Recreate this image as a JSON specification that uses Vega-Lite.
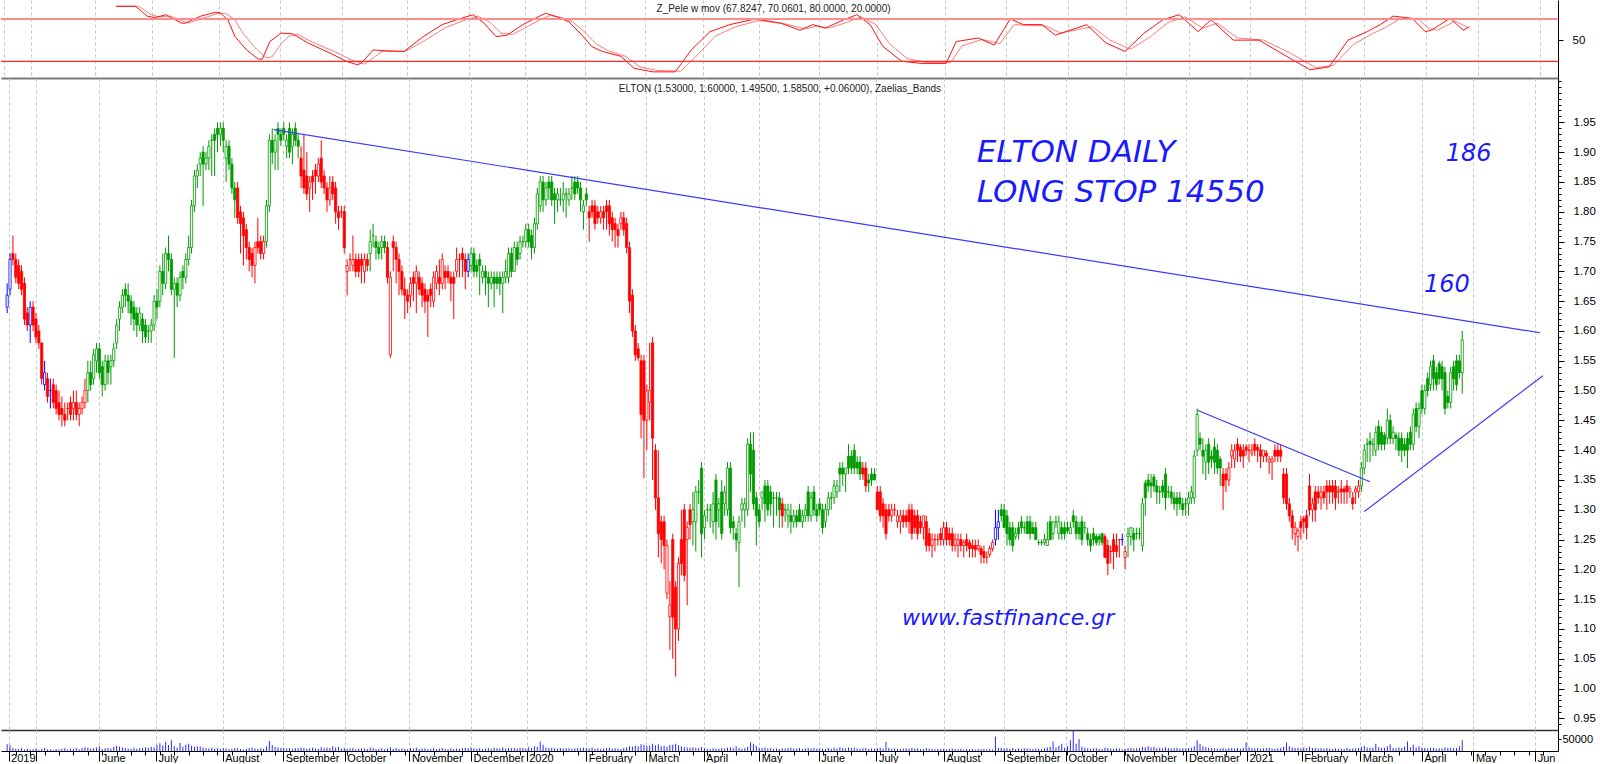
{
"$schema": "https://vega.github.io/schema/vega-lite/v6.json",
"padding": 0,
"background": "#ffffff",
"spacing": 0,
"bounds": "flush",
"config": {"view": {"stroke": null}, "font": "Liberation Sans", "axis": {"labelFont": "Liberation Sans", "labelColor": "#000000", "tickColor": "#000000", "domainColor": "#000000"}},
"datasets": {
"candles": [
{"i":0,"o":1.64,"h":1.68,"l":1.63,"c":1.66,"t":"B","v":28000},
{"i":1,"o":1.67,"h":1.73,"l":1.66,"c":1.72,"t":"B","v":24000},
{"i":2,"o":1.73,"h":1.76,"l":1.71,"c":1.72,"t":"R","v":12000},
{"i":3,"o":1.72,"h":1.73,"l":1.68,"c":1.69,"t":"R","v":9000},
{"i":4,"o":1.71,"h":1.72,"l":1.67,"c":1.68,"t":"R","v":8000},
{"i":5,"o":1.70,"h":1.71,"l":1.66,"c":1.67,"t":"R","v":12000},
{"i":6,"o":1.68,"h":1.69,"l":1.61,"c":1.62,"t":"R","v":6000},
{"i":7,"o":1.63,"h":1.64,"l":1.60,"c":1.61,"t":"R","v":9000},
{"i":8,"o":1.61,"h":1.65,"l":1.58,"c":1.64,"t":"B","v":5000},
{"i":9,"o":1.64,"h":1.65,"l":1.60,"c":1.61,"t":"R","v":7000},
{"i":10,"o":1.62,"h":1.63,"l":1.58,"c":1.59,"t":"R","v":10000},
{"i":11,"o":1.60,"h":1.61,"l":1.57,"c":1.58,"t":"R","v":4000},
{"i":12,"o":1.58,"h":1.58,"l":1.51,"c":1.52,"t":"R","v":9000},
{"i":13,"o":1.51,"h":1.55,"l":1.50,"c":1.53,"t":"B","v":12000},
{"i":14,"o":1.52,"h":1.53,"l":1.48,"c":1.49,"t":"R","v":6000},
{"i":15,"o":1.50,"h":1.52,"l":1.47,"c":1.50,"t":"B","v":7000},
{"i":16,"o":1.51,"h":1.52,"l":1.47,"c":1.48,"t":"R","v":5000},
{"i":17,"o":1.50,"h":1.51,"l":1.46,"c":1.47,"t":"R","v":8000},
{"i":18,"o":1.48,"h":1.50,"l":1.45,"c":1.46,"t":"R","v":6000},
{"i":19,"o":1.47,"h":1.49,"l":1.44,"c":1.46,"t":"R","v":9000},
{"i":20,"o":1.46,"h":1.48,"l":1.44,"c":1.45,"t":"R","v":11000},
{"i":21,"o":1.47,"h":1.48,"l":1.45,"c":1.47,"t":"R","v":6000},
{"i":22,"o":1.48,"h":1.49,"l":1.45,"c":1.46,"t":"R","v":10000},
{"i":23,"o":1.47,"h":1.50,"l":1.45,"c":1.48,"t":"R","v":9000},
{"i":24,"o":1.48,"h":1.50,"l":1.45,"c":1.46,"t":"R","v":13000},
{"i":25,"o":1.46,"h":1.48,"l":1.44,"c":1.47,"t":"R","v":7000},
{"i":26,"o":1.47,"h":1.49,"l":1.46,"c":1.48,"t":"R","v":12000},
{"i":27,"o":1.48,"h":1.52,"l":1.47,"c":1.50,"t":"R","v":16000},
{"i":28,"o":1.50,"h":1.55,"l":1.48,"c":1.53,"t":"G","v":14000},
{"i":29,"o":1.53,"h":1.55,"l":1.50,"c":1.51,"t":"G","v":9000},
{"i":30,"o":1.52,"h":1.57,"l":1.51,"c":1.56,"t":"G","v":12000},
{"i":31,"o":1.55,"h":1.58,"l":1.53,"c":1.57,"t":"G","v":15000},
{"i":32,"o":1.57,"h":1.58,"l":1.52,"c":1.53,"t":"G","v":20000},
{"i":33,"o":1.54,"h":1.55,"l":1.49,"c":1.51,"t":"G","v":8000},
{"i":34,"o":1.51,"h":1.56,"l":1.50,"c":1.55,"t":"G","v":11000},
{"i":35,"o":1.55,"h":1.56,"l":1.51,"c":1.53,"t":"G","v":14000},
{"i":36,"o":1.54,"h":1.56,"l":1.51,"c":1.55,"t":"G","v":9000},
{"i":37,"o":1.55,"h":1.58,"l":1.54,"c":1.57,"t":"G","v":17000},
{"i":38,"o":1.58,"h":1.62,"l":1.57,"c":1.61,"t":"G","v":22000},
{"i":39,"o":1.62,"h":1.65,"l":1.60,"c":1.64,"t":"G","v":18000},
{"i":40,"o":1.64,"h":1.67,"l":1.63,"c":1.66,"t":"G","v":15000},
{"i":41,"o":1.67,"h":1.68,"l":1.64,"c":1.66,"t":"G","v":12000},
{"i":42,"o":1.66,"h":1.68,"l":1.63,"c":1.65,"t":"G","v":10000},
{"i":43,"o":1.65,"h":1.66,"l":1.61,"c":1.63,"t":"G","v":8000},
{"i":44,"o":1.64,"h":1.65,"l":1.60,"c":1.62,"t":"G","v":14000},
{"i":45,"o":1.63,"h":1.64,"l":1.59,"c":1.61,"t":"G","v":9000},
{"i":46,"o":1.61,"h":1.64,"l":1.60,"c":1.63,"t":"G","v":11000},
{"i":47,"o":1.62,"h":1.63,"l":1.58,"c":1.60,"t":"G","v":13000},
{"i":48,"o":1.61,"h":1.62,"l":1.58,"c":1.59,"t":"G","v":16000},
{"i":49,"o":1.60,"h":1.61,"l":1.58,"c":1.60,"t":"G","v":12000},
{"i":50,"o":1.60,"h":1.62,"l":1.58,"c":1.61,"t":"G","v":18000},
{"i":51,"o":1.61,"h":1.66,"l":1.60,"c":1.65,"t":"G","v":15000},
{"i":52,"o":1.65,"h":1.67,"l":1.62,"c":1.64,"t":"G","v":26000},
{"i":53,"o":1.65,"h":1.71,"l":1.64,"c":1.70,"t":"G","v":32000},
{"i":54,"o":1.70,"h":1.73,"l":1.66,"c":1.68,"t":"G","v":22000},
{"i":55,"o":1.68,"h":1.74,"l":1.67,"c":1.73,"t":"G","v":38000},
{"i":56,"o":1.73,"h":1.76,"l":1.70,"c":1.72,"t":"G","v":25000},
{"i":57,"o":1.72,"h":1.73,"l":1.66,"c":1.67,"t":"G","v":45000},
{"i":58,"o":1.67,"h":1.69,"l":1.555,"c":1.68,"t":"G","v":20000},
{"i":59,"o":1.68,"h":1.69,"l":1.64,"c":1.66,"t":"G","v":14000},
{"i":60,"o":1.66,"h":1.70,"l":1.65,"c":1.69,"t":"G","v":33000},
{"i":61,"o":1.70,"h":1.71,"l":1.67,"c":1.69,"t":"G","v":18000},
{"i":62,"o":1.69,"h":1.73,"l":1.68,"c":1.72,"t":"G","v":26000},
{"i":63,"o":1.72,"h":1.76,"l":1.71,"c":1.74,"t":"G","v":30000},
{"i":64,"o":1.74,"h":1.82,"l":1.73,"c":1.81,"t":"G","v":22000},
{"i":65,"o":1.81,"h":1.87,"l":1.80,"c":1.86,"t":"G","v":18000},
{"i":66,"o":1.86,"h":1.88,"l":1.84,"c":1.87,"t":"G","v":20000},
{"i":67,"o":1.88,"h":1.90,"l":1.86,"c":1.89,"t":"G","v":19000},
{"i":68,"o":1.90,"h":1.91,"l":1.81,"c":1.88,"t":"G","v":15000},
{"i":69,"o":1.88,"h":1.90,"l":1.87,"c":1.89,"t":"G","v":12000},
{"i":70,"o":1.89,"h":1.92,"l":1.87,"c":1.91,"t":"G","v":10000},
{"i":71,"o":1.92,"h":1.93,"l":1.86,"c":1.92,"t":"G","v":14000},
{"i":72,"o":1.93,"h":1.94,"l":1.86,"c":1.92,"t":"G","v":9000},
{"i":73,"o":1.94,"h":1.95,"l":1.90,"c":1.93,"t":"G","v":11000},
{"i":74,"o":1.93,"h":1.95,"l":1.91,"c":1.94,"t":"G","v":8000},
{"i":75,"o":1.94,"h":1.95,"l":1.90,"c":1.92,"t":"G","v":12000},
{"i":76,"o":1.89,"h":1.92,"l":1.85,"c":1.91,"t":"G","v":10000},
{"i":77,"o":1.91,"h":1.92,"l":1.87,"c":1.88,"t":"G","v":7000},
{"i":78,"o":1.88,"h":1.89,"l":1.83,"c":1.84,"t":"G","v":9000},
{"i":79,"o":1.84,"h":1.85,"l":1.79,"c":1.82,"t":"G","v":13000},
{"i":80,"o":1.84,"h":1.85,"l":1.78,"c":1.79,"t":"R","v":11000},
{"i":81,"o":1.80,"h":1.81,"l":1.73,"c":1.78,"t":"R","v":8000},
{"i":82,"o":1.79,"h":1.80,"l":1.71,"c":1.76,"t":"R","v":6000},
{"i":83,"o":1.77,"h":1.78,"l":1.72,"c":1.74,"t":"R","v":9000},
{"i":84,"o":1.74,"h":1.75,"l":1.70,"c":1.72,"t":"R","v":12000},
{"i":85,"o":1.73,"h":1.74,"l":1.69,"c":1.71,"t":"R","v":14000},
{"i":86,"o":1.71,"h":1.75,"l":1.68,"c":1.74,"t":"R","v":10000},
{"i":87,"o":1.75,"h":1.79,"l":1.73,"c":1.74,"t":"R","v":8000},
{"i":88,"o":1.75,"h":1.76,"l":1.72,"c":1.73,"t":"R","v":11000},
{"i":89,"o":1.73,"h":1.76,"l":1.72,"c":1.75,"t":"R","v":9000},
{"i":90,"o":1.75,"h":1.82,"l":1.74,"c":1.81,"t":"G","v":20000},
{"i":91,"o":1.81,"h":1.93,"l":1.80,"c":1.92,"t":"G","v":42000},
{"i":92,"o":1.92,"h":1.94,"l":1.88,"c":1.90,"t":"G","v":25000},
{"i":93,"o":1.90,"h":1.93,"l":1.87,"c":1.92,"t":"G","v":18000},
{"i":94,"o":1.94,"h":1.95,"l":1.87,"c":1.93,"t":"G","v":15000},
{"i":95,"o":1.93,"h":1.94,"l":1.91,"c":1.92,"t":"G","v":12000},
{"i":96,"o":1.94,"h":1.95,"l":1.92,"c":1.93,"t":"G","v":14000},
{"i":97,"o":1.91,"h":1.93,"l":1.89,"c":1.92,"t":"G","v":10000},
{"i":98,"o":1.94,"h":1.95,"l":1.89,"c":1.90,"t":"G","v":12000},
{"i":99,"o":1.91,"h":1.94,"l":1.88,"c":1.93,"t":"G","v":9000},
{"i":100,"o":1.94,"h":1.95,"l":1.91,"c":1.92,"t":"G","v":13000},
{"i":101,"o":1.92,"h":1.93,"l":1.89,"c":1.91,"t":"G","v":11000},
{"i":102,"o":1.89,"h":1.91,"l":1.84,"c":1.86,"t":"R","v":15000},
{"i":103,"o":1.87,"h":1.93,"l":1.83,"c":1.84,"t":"R","v":12000},
{"i":104,"o":1.86,"h":1.90,"l":1.82,"c":1.83,"t":"R","v":9000},
{"i":105,"o":1.84,"h":1.86,"l":1.80,"c":1.85,"t":"R","v":11000},
{"i":106,"o":1.86,"h":1.87,"l":1.82,"c":1.85,"t":"R","v":14000},
{"i":107,"o":1.87,"h":1.88,"l":1.83,"c":1.86,"t":"R","v":10000},
{"i":108,"o":1.86,"h":1.89,"l":1.85,"c":1.88,"t":"R","v":9000},
{"i":109,"o":1.89,"h":1.92,"l":1.84,"c":1.85,"t":"R","v":16000},
{"i":110,"o":1.86,"h":1.87,"l":1.83,"c":1.84,"t":"R","v":11000},
{"i":111,"o":1.84,"h":1.85,"l":1.80,"c":1.82,"t":"R","v":14000},
{"i":112,"o":1.82,"h":1.86,"l":1.81,"c":1.84,"t":"R","v":12000},
{"i":113,"o":1.85,"h":1.86,"l":1.82,"c":1.83,"t":"R","v":20000},
{"i":114,"o":1.84,"h":1.85,"l":1.78,"c":1.80,"t":"R","v":15000},
{"i":115,"o":1.80,"h":1.81,"l":1.77,"c":1.79,"t":"R","v":18000},
{"i":116,"o":1.80,"h":1.81,"l":1.79,"c":1.80,"t":"R","v":10000},
{"i":117,"o":1.80,"h":1.81,"l":1.73,"c":1.74,"t":"R","v":14000},
{"i":118,"o":1.70,"h":1.72,"l":1.66,"c":1.71,"t":"R","v":8000},
{"i":119,"o":1.72,"h":1.73,"l":1.70,"c":1.72,"t":"R","v":10000},
{"i":120,"o":1.71,"h":1.76,"l":1.70,"c":1.72,"t":"R","v":12000},
{"i":121,"o":1.72,"h":1.73,"l":1.69,"c":1.70,"t":"R","v":7000},
{"i":122,"o":1.72,"h":1.73,"l":1.69,"c":1.70,"t":"R","v":9000},
{"i":123,"o":1.72,"h":1.73,"l":1.68,"c":1.71,"t":"R","v":11000},
{"i":124,"o":1.70,"h":1.73,"l":1.68,"c":1.72,"t":"R","v":10000},
{"i":125,"o":1.72,"h":1.73,"l":1.70,"c":1.71,"t":"R","v":8000},
{"i":126,"o":1.73,"h":1.77,"l":1.70,"c":1.75,"t":"G","v":15000},
{"i":127,"o":1.76,"h":1.78,"l":1.74,"c":1.76,"t":"G","v":12000},
{"i":128,"o":1.75,"h":1.76,"l":1.72,"c":1.74,"t":"G","v":8000},
{"i":129,"o":1.74,"h":1.75,"l":1.72,"c":1.73,"t":"G","v":9000},
{"i":130,"o":1.74,"h":1.76,"l":1.72,"c":1.75,"t":"G","v":11000},
{"i":131,"o":1.75,"h":1.76,"l":1.73,"c":1.74,"t":"G","v":7000},
{"i":132,"o":1.74,"h":1.75,"l":1.68,"c":1.69,"t":"R","v":10000},
{"i":133,"o":1.56,"h":1.70,"l":1.555,"c":1.69,"t":"R","v":16000},
{"i":134,"o":1.75,"h":1.76,"l":1.70,"c":1.74,"t":"R","v":9000},
{"i":135,"o":1.74,"h":1.75,"l":1.68,"c":1.72,"t":"R","v":12000},
{"i":136,"o":1.72,"h":1.73,"l":1.66,"c":1.70,"t":"R","v":8000},
{"i":137,"o":1.70,"h":1.71,"l":1.66,"c":1.67,"t":"R","v":10000},
{"i":138,"o":1.67,"h":1.69,"l":1.62,"c":1.66,"t":"R","v":9000},
{"i":139,"o":1.66,"h":1.67,"l":1.63,"c":1.65,"t":"R","v":7000},
{"i":140,"o":1.66,"h":1.69,"l":1.64,"c":1.68,"t":"R","v":12000},
{"i":141,"o":1.69,"h":1.70,"l":1.65,"c":1.68,"t":"R","v":9000},
{"i":142,"o":1.68,"h":1.71,"l":1.63,"c":1.70,"t":"R","v":14000},
{"i":143,"o":1.69,"h":1.70,"l":1.66,"c":1.67,"t":"R","v":8000},
{"i":144,"o":1.68,"h":1.69,"l":1.64,"c":1.66,"t":"R","v":10000},
{"i":145,"o":1.67,"h":1.68,"l":1.63,"c":1.65,"t":"R","v":11000},
{"i":146,"o":1.66,"h":1.67,"l":1.59,"c":1.65,"t":"R","v":7000},
{"i":147,"o":1.67,"h":1.68,"l":1.64,"c":1.66,"t":"R","v":9000},
{"i":148,"o":1.65,"h":1.70,"l":1.64,"c":1.69,"t":"R","v":13000},
{"i":149,"o":1.68,"h":1.71,"l":1.67,"c":1.70,"t":"R","v":8000},
{"i":150,"o":1.69,"h":1.72,"l":1.66,"c":1.68,"t":"R","v":10000},
{"i":151,"o":1.68,"h":1.73,"l":1.67,"c":1.72,"t":"R","v":12000},
{"i":152,"o":1.70,"h":1.71,"l":1.67,"c":1.69,"t":"R","v":9000},
{"i":153,"o":1.70,"h":1.71,"l":1.68,"c":1.69,"t":"R","v":7000},
{"i":154,"o":1.69,"h":1.70,"l":1.65,"c":1.68,"t":"R","v":11000},
{"i":155,"o":1.69,"h":1.70,"l":1.62,"c":1.68,"t":"R","v":8000},
{"i":156,"o":1.70,"h":1.74,"l":1.69,"c":1.72,"t":"R","v":10000},
{"i":157,"o":1.72,"h":1.73,"l":1.69,"c":1.72,"t":"R","v":9000},
{"i":158,"o":1.73,"h":1.74,"l":1.69,"c":1.72,"t":"R","v":12000},
{"i":159,"o":1.72,"h":1.73,"l":1.67,"c":1.70,"t":"R","v":14000},
{"i":160,"o":1.70,"h":1.73,"l":1.69,"c":1.72,"t":"B","v":11000},
{"i":161,"o":1.71,"h":1.74,"l":1.70,"c":1.73,"t":"G","v":16000},
{"i":162,"o":1.73,"h":1.74,"l":1.69,"c":1.70,"t":"G","v":10000},
{"i":163,"o":1.71,"h":1.72,"l":1.69,"c":1.70,"t":"G","v":9000},
{"i":164,"o":1.72,"h":1.73,"l":1.66,"c":1.71,"t":"G","v":11000},
{"i":165,"o":1.69,"h":1.71,"l":1.68,"c":1.70,"t":"G","v":8000},
{"i":166,"o":1.70,"h":1.71,"l":1.66,"c":1.69,"t":"G","v":10000},
{"i":167,"o":1.69,"h":1.70,"l":1.64,"c":1.68,"t":"G","v":12000},
{"i":168,"o":1.68,"h":1.70,"l":1.67,"c":1.69,"t":"G","v":9000},
{"i":169,"o":1.69,"h":1.70,"l":1.64,"c":1.68,"t":"G","v":14000},
{"i":170,"o":1.69,"h":1.70,"l":1.67,"c":1.68,"t":"G","v":11000},
{"i":171,"o":1.69,"h":1.70,"l":1.66,"c":1.68,"t":"G","v":10000},
{"i":172,"o":1.68,"h":1.70,"l":1.63,"c":1.69,"t":"G","v":15000},
{"i":173,"o":1.69,"h":1.72,"l":1.68,"c":1.70,"t":"G","v":9000},
{"i":174,"o":1.69,"h":1.74,"l":1.68,"c":1.73,"t":"G","v":12000},
{"i":175,"o":1.73,"h":1.74,"l":1.69,"c":1.70,"t":"G","v":11000},
{"i":176,"o":1.70,"h":1.75,"l":1.70,"c":1.74,"t":"G","v":13000},
{"i":177,"o":1.74,"h":1.75,"l":1.71,"c":1.72,"t":"G","v":10000},
{"i":178,"o":1.73,"h":1.76,"l":1.72,"c":1.75,"t":"G","v":14000},
{"i":179,"o":1.75,"h":1.76,"l":1.74,"c":1.75,"t":"G","v":12000},
{"i":180,"o":1.75,"h":1.78,"l":1.74,"c":1.77,"t":"G","v":9000},
{"i":181,"o":1.77,"h":1.78,"l":1.74,"c":1.75,"t":"G","v":16000},
{"i":182,"o":1.76,"h":1.77,"l":1.72,"c":1.74,"t":"G","v":13000},
{"i":183,"o":1.74,"h":1.79,"l":1.73,"c":1.78,"t":"G","v":20000},
{"i":184,"o":1.78,"h":1.84,"l":1.77,"c":1.83,"t":"G","v":18000},
{"i":185,"o":1.81,"h":1.86,"l":1.80,"c":1.85,"t":"G","v":40000},
{"i":186,"o":1.85,"h":1.86,"l":1.80,"c":1.82,"t":"G","v":26000},
{"i":187,"o":1.82,"h":1.85,"l":1.81,"c":1.84,"t":"G","v":15000},
{"i":188,"o":1.85,"h":1.86,"l":1.82,"c":1.84,"t":"G","v":12000},
{"i":189,"o":1.85,"h":1.86,"l":1.81,"c":1.82,"t":"G","v":14000},
{"i":190,"o":1.83,"h":1.84,"l":1.78,"c":1.82,"t":"G","v":11000},
{"i":191,"o":1.82,"h":1.84,"l":1.80,"c":1.83,"t":"G","v":9000},
{"i":192,"o":1.82,"h":1.84,"l":1.81,"c":1.82,"t":"G","v":12000},
{"i":193,"o":1.82,"h":1.85,"l":1.80,"c":1.83,"t":"G","v":10000},
{"i":194,"o":1.83,"h":1.84,"l":1.79,"c":1.83,"t":"G","v":13000},
{"i":195,"o":1.82,"h":1.84,"l":1.81,"c":1.83,"t":"G","v":11000},
{"i":196,"o":1.84,"h":1.86,"l":1.82,"c":1.84,"t":"G","v":9000},
{"i":197,"o":1.85,"h":1.86,"l":1.82,"c":1.83,"t":"G","v":10000},
{"i":198,"o":1.85,"h":1.86,"l":1.83,"c":1.84,"t":"G","v":12000},
{"i":199,"o":1.84,"h":1.85,"l":1.80,"c":1.82,"t":"G","v":11000},
{"i":200,"o":1.80,"h":1.82,"l":1.77,"c":1.81,"t":"G","v":14000},
{"i":201,"o":1.83,"h":1.84,"l":1.81,"c":1.82,"t":"G","v":12000},
{"i":202,"o":1.80,"h":1.81,"l":1.75,"c":1.79,"t":"R","v":10000},
{"i":203,"o":1.81,"h":1.82,"l":1.79,"c":1.80,"t":"R","v":15000},
{"i":204,"o":1.81,"h":1.82,"l":1.77,"c":1.78,"t":"R","v":9000},
{"i":205,"o":1.80,"h":1.81,"l":1.78,"c":1.79,"t":"R","v":11000},
{"i":206,"o":1.79,"h":1.81,"l":1.78,"c":1.80,"t":"R","v":8000},
{"i":207,"o":1.80,"h":1.81,"l":1.77,"c":1.79,"t":"R","v":10000},
{"i":208,"o":1.81,"h":1.82,"l":1.77,"c":1.80,"t":"R","v":12000},
{"i":209,"o":1.81,"h":1.82,"l":1.76,"c":1.78,"t":"R","v":14000},
{"i":210,"o":1.79,"h":1.80,"l":1.75,"c":1.77,"t":"R","v":9000},
{"i":211,"o":1.78,"h":1.79,"l":1.74,"c":1.77,"t":"R","v":11000},
{"i":212,"o":1.77,"h":1.78,"l":1.74,"c":1.76,"t":"R","v":10000},
{"i":213,"o":1.78,"h":1.80,"l":1.77,"c":1.79,"t":"R","v":8000},
{"i":214,"o":1.79,"h":1.80,"l":1.76,"c":1.77,"t":"R","v":12000},
{"i":215,"o":1.78,"h":1.79,"l":1.73,"c":1.74,"t":"R","v":16000},
{"i":216,"o":1.74,"h":1.75,"l":1.63,"c":1.65,"t":"R","v":20000},
{"i":217,"o":1.66,"h":1.67,"l":1.59,"c":1.60,"t":"R","v":18000},
{"i":218,"o":1.60,"h":1.61,"l":1.55,"c":1.56,"t":"R","v":22000},
{"i":219,"o":1.57,"h":1.58,"l":1.55,"c":1.555,"t":"R","v":19000},
{"i":220,"o":1.55,"h":1.56,"l":1.42,"c":1.46,"t":"R","v":28000},
{"i":221,"o":1.55,"h":1.56,"l":1.353,"c":1.45,"t":"R","v":26000},
{"i":222,"o":1.45,"h":1.51,"l":1.40,"c":1.50,"t":"R","v":21000},
{"i":223,"o":1.48,"h":1.58,"l":1.45,"c":1.50,"t":"R","v":23000},
{"i":224,"o":1.58,"h":1.59,"l":1.35,"c":1.42,"t":"R","v":30000},
{"i":225,"o":1.40,"h":1.41,"l":1.30,"c":1.32,"t":"R","v":24000},
{"i":226,"o":1.32,"h":1.40,"l":1.22,"c":1.26,"t":"R","v":28000},
{"i":227,"o":1.28,"h":1.29,"l":1.21,"c":1.25,"t":"R","v":20000},
{"i":228,"o":1.28,"h":1.29,"l":1.20,"c":1.24,"t":"R","v":22000},
{"i":229,"o":1.16,"h":1.25,"l":1.15,"c":1.24,"t":"R","v":18000},
{"i":230,"o":1.12,"h":1.18,"l":1.065,"c":1.14,"t":"R","v":25000},
{"i":231,"o":1.25,"h":1.26,"l":1.05,"c":1.12,"t":"R","v":26000},
{"i":232,"o":1.17,"h":1.18,"l":1.02,"c":1.10,"t":"R","v":30000},
{"i":233,"o":1.10,"h":1.22,"l":1.08,"c":1.21,"t":"R","v":24000},
{"i":234,"o":1.25,"h":1.30,"l":1.19,"c":1.21,"t":"R","v":20000},
{"i":235,"o":1.30,"h":1.31,"l":1.18,"c":1.19,"t":"R","v":17000},
{"i":236,"o":1.25,"h":1.28,"l":1.14,"c":1.27,"t":"R","v":15000},
{"i":237,"o":1.30,"h":1.31,"l":1.25,"c":1.275,"t":"R","v":14000},
{"i":238,"o":1.28,"h":1.33,"l":1.24,"c":1.30,"t":"G","v":16000},
{"i":239,"o":1.28,"h":1.34,"l":1.23,"c":1.33,"t":"G","v":14000},
{"i":240,"o":1.33,"h":1.35,"l":1.31,"c":1.33,"t":"G","v":12000},
{"i":241,"o":1.37,"h":1.38,"l":1.22,"c":1.26,"t":"G","v":18000},
{"i":242,"o":1.27,"h":1.30,"l":1.25,"c":1.29,"t":"G","v":13000},
{"i":243,"o":1.30,"h":1.31,"l":1.28,"c":1.30,"t":"G","v":9000},
{"i":244,"o":1.30,"h":1.31,"l":1.27,"c":1.30,"t":"G","v":8000},
{"i":245,"o":1.28,"h":1.33,"l":1.26,"c":1.31,"t":"G","v":11000},
{"i":246,"o":1.35,"h":1.36,"l":1.25,"c":1.28,"t":"G","v":10000},
{"i":247,"o":1.30,"h":1.32,"l":1.27,"c":1.31,"t":"G","v":9000},
{"i":248,"o":1.33,"h":1.35,"l":1.25,"c":1.26,"t":"G","v":12000},
{"i":249,"o":1.31,"h":1.34,"l":1.29,"c":1.33,"t":"G","v":10000},
{"i":250,"o":1.30,"h":1.38,"l":1.29,"c":1.37,"t":"G","v":14000},
{"i":251,"o":1.37,"h":1.38,"l":1.26,"c":1.27,"t":"G","v":16000},
{"i":252,"o":1.28,"h":1.29,"l":1.25,"c":1.27,"t":"G","v":11000},
{"i":253,"o":1.26,"h":1.27,"l":1.23,"c":1.25,"t":"G","v":20000},
{"i":254,"o":1.245,"h":1.29,"l":1.17,"c":1.28,"t":"G","v":13000},
{"i":255,"o":1.30,"h":1.32,"l":1.28,"c":1.31,"t":"G","v":9000},
{"i":256,"o":1.30,"h":1.32,"l":1.27,"c":1.31,"t":"G","v":11000},
{"i":257,"o":1.30,"h":1.42,"l":1.29,"c":1.41,"t":"G","v":18000},
{"i":258,"o":1.41,"h":1.43,"l":1.33,"c":1.36,"t":"G","v":36000},
{"i":259,"o":1.40,"h":1.43,"l":1.30,"c":1.31,"t":"G","v":30000},
{"i":260,"o":1.32,"h":1.33,"l":1.24,"c":1.29,"t":"G","v":22000},
{"i":261,"o":1.30,"h":1.31,"l":1.27,"c":1.28,"t":"G","v":14000},
{"i":262,"o":1.32,"h":1.33,"l":1.30,"c":1.33,"t":"G","v":12000},
{"i":263,"o":1.34,"h":1.35,"l":1.28,"c":1.31,"t":"G","v":15000},
{"i":264,"o":1.34,"h":1.35,"l":1.29,"c":1.30,"t":"G","v":10000},
{"i":265,"o":1.33,"h":1.34,"l":1.29,"c":1.31,"t":"G","v":12000},
{"i":266,"o":1.32,"h":1.33,"l":1.27,"c":1.32,"t":"G","v":9000},
{"i":267,"o":1.32,"h":1.33,"l":1.29,"c":1.32,"t":"G","v":10000},
{"i":268,"o":1.32,"h":1.33,"l":1.27,"c":1.30,"t":"G","v":8000},
{"i":269,"o":1.31,"h":1.32,"l":1.27,"c":1.29,"t":"R","v":11000},
{"i":270,"o":1.30,"h":1.31,"l":1.28,"c":1.30,"t":"G","v":9000},
{"i":271,"o":1.29,"h":1.31,"l":1.27,"c":1.30,"t":"G","v":12000},
{"i":272,"o":1.29,"h":1.31,"l":1.26,"c":1.28,"t":"G","v":14000},
{"i":273,"o":1.28,"h":1.30,"l":1.27,"c":1.29,"t":"G","v":10000},
{"i":274,"o":1.29,"h":1.30,"l":1.27,"c":1.28,"t":"G","v":9000},
{"i":275,"o":1.30,"h":1.31,"l":1.28,"c":1.28,"t":"G","v":12000},
{"i":276,"o":1.28,"h":1.30,"l":1.27,"c":1.29,"t":"G","v":8000},
{"i":277,"o":1.29,"h":1.31,"l":1.28,"c":1.30,"t":"G","v":11000},
{"i":278,"o":1.33,"h":1.34,"l":1.28,"c":1.29,"t":"G","v":13000},
{"i":279,"o":1.29,"h":1.33,"l":1.28,"c":1.32,"t":"G","v":10000},
{"i":280,"o":1.33,"h":1.34,"l":1.29,"c":1.30,"t":"G","v":12000},
{"i":281,"o":1.30,"h":1.31,"l":1.28,"c":1.29,"t":"G","v":9000},
{"i":282,"o":1.31,"h":1.32,"l":1.29,"c":1.30,"t":"G","v":11000},
{"i":283,"o":1.30,"h":1.31,"l":1.26,"c":1.27,"t":"G","v":10000},
{"i":284,"o":1.28,"h":1.31,"l":1.27,"c":1.30,"t":"G","v":8000},
{"i":285,"o":1.30,"h":1.33,"l":1.29,"c":1.32,"t":"G","v":12000},
{"i":286,"o":1.32,"h":1.33,"l":1.30,"c":1.32,"t":"G","v":9000},
{"i":287,"o":1.32,"h":1.35,"l":1.31,"c":1.34,"t":"G","v":14000},
{"i":288,"o":1.33,"h":1.35,"l":1.32,"c":1.34,"t":"G","v":10000},
{"i":289,"o":1.37,"h":1.38,"l":1.33,"c":1.36,"t":"G","v":16000},
{"i":290,"o":1.37,"h":1.38,"l":1.34,"c":1.36,"t":"G","v":12000},
{"i":291,"o":1.36,"h":1.37,"l":1.33,"c":1.37,"t":"G","v":11000},
{"i":292,"o":1.39,"h":1.41,"l":1.36,"c":1.37,"t":"G","v":15000},
{"i":293,"o":1.39,"h":1.40,"l":1.36,"c":1.37,"t":"G","v":13000},
{"i":294,"o":1.40,"h":1.41,"l":1.36,"c":1.37,"t":"G","v":14000},
{"i":295,"o":1.38,"h":1.39,"l":1.36,"c":1.37,"t":"G","v":10000},
{"i":296,"o":1.38,"h":1.39,"l":1.35,"c":1.36,"t":"G","v":9000},
{"i":297,"o":1.37,"h":1.38,"l":1.35,"c":1.36,"t":"R","v":11000},
{"i":298,"o":1.37,"h":1.38,"l":1.33,"c":1.34,"t":"R","v":12000},
{"i":299,"o":1.35,"h":1.36,"l":1.33,"c":1.345,"t":"G","v":8000},
{"i":300,"o":1.36,"h":1.37,"l":1.34,"c":1.35,"t":"G","v":10000},
{"i":301,"o":1.36,"h":1.37,"l":1.35,"c":1.35,"t":"G","v":9000},
{"i":302,"o":1.33,"h":1.34,"l":1.30,"c":1.30,"t":"R","v":12000},
{"i":303,"o":1.33,"h":1.34,"l":1.28,"c":1.29,"t":"R","v":14000},
{"i":304,"o":1.31,"h":1.32,"l":1.27,"c":1.29,"t":"R","v":10000},
{"i":305,"o":1.30,"h":1.31,"l":1.25,"c":1.26,"t":"R","v":38000},
{"i":306,"o":1.30,"h":1.31,"l":1.28,"c":1.29,"t":"R","v":12000},
{"i":307,"o":1.29,"h":1.31,"l":1.28,"c":1.30,"t":"R","v":9000},
{"i":308,"o":1.30,"h":1.31,"l":1.29,"c":1.30,"t":"R","v":10000},
{"i":309,"o":1.28,"h":1.30,"l":1.27,"c":1.29,"t":"R","v":8000},
{"i":310,"o":1.28,"h":1.30,"l":1.26,"c":1.29,"t":"R","v":9000},
{"i":311,"o":1.29,"h":1.30,"l":1.27,"c":1.28,"t":"R","v":10000},
{"i":312,"o":1.29,"h":1.30,"l":1.27,"c":1.28,"t":"R","v":11000},
{"i":313,"o":1.30,"h":1.31,"l":1.26,"c":1.28,"t":"R","v":9000},
{"i":314,"o":1.30,"h":1.31,"l":1.25,"c":1.26,"t":"R","v":12000},
{"i":315,"o":1.29,"h":1.30,"l":1.26,"c":1.27,"t":"R","v":10000},
{"i":316,"o":1.29,"h":1.30,"l":1.25,"c":1.26,"t":"R","v":11000},
{"i":317,"o":1.28,"h":1.29,"l":1.26,"c":1.27,"t":"R","v":8000},
{"i":318,"o":1.27,"h":1.29,"l":1.25,"c":1.29,"t":"R","v":9000},
{"i":319,"o":1.28,"h":1.29,"l":1.23,"c":1.24,"t":"R","v":12000},
{"i":320,"o":1.26,"h":1.27,"l":1.23,"c":1.24,"t":"R","v":10000},
{"i":321,"o":1.24,"h":1.26,"l":1.22,"c":1.25,"t":"R","v":9000},
{"i":322,"o":1.25,"h":1.26,"l":1.23,"c":1.25,"t":"R","v":7000},
{"i":323,"o":1.25,"h":1.26,"l":1.24,"c":1.25,"t":"R","v":8000},
{"i":324,"o":1.26,"h":1.27,"l":1.24,"c":1.25,"t":"R","v":9000},
{"i":325,"o":1.25,"h":1.28,"l":1.24,"c":1.27,"t":"R","v":8000},
{"i":326,"o":1.27,"h":1.28,"l":1.24,"c":1.25,"t":"R","v":7000},
{"i":327,"o":1.26,"h":1.27,"l":1.24,"c":1.25,"t":"R","v":9000},
{"i":328,"o":1.26,"h":1.27,"l":1.23,"c":1.24,"t":"R","v":10000},
{"i":329,"o":1.24,"h":1.26,"l":1.23,"c":1.25,"t":"R","v":8000},
{"i":330,"o":1.24,"h":1.26,"l":1.22,"c":1.25,"t":"R","v":7000},
{"i":331,"o":1.25,"h":1.26,"l":1.23,"c":1.24,"t":"R","v":9000},
{"i":332,"o":1.24,"h":1.25,"l":1.22,"c":1.245,"t":"R","v":6000},
{"i":333,"o":1.25,"h":1.26,"l":1.23,"c":1.24,"t":"R","v":8000},
{"i":334,"o":1.245,"h":1.25,"l":1.22,"c":1.235,"t":"R","v":7000},
{"i":335,"o":1.24,"h":1.25,"l":1.22,"c":1.235,"t":"R","v":9000},
{"i":336,"o":1.24,"h":1.25,"l":1.22,"c":1.233,"t":"R","v":6000},
{"i":337,"o":1.235,"h":1.25,"l":1.23,"c":1.24,"t":"R","v":8000},
{"i":338,"o":1.235,"h":1.24,"l":1.21,"c":1.225,"t":"R","v":7000},
{"i":339,"o":1.23,"h":1.24,"l":1.21,"c":1.22,"t":"R","v":9000},
{"i":340,"o":1.22,"h":1.23,"l":1.21,"c":1.22,"t":"R","v":7000},
{"i":341,"o":1.225,"h":1.24,"l":1.22,"c":1.235,"t":"R","v":8000},
{"i":342,"o":1.235,"h":1.25,"l":1.23,"c":1.245,"t":"R","v":6000},
{"i":343,"o":1.25,"h":1.30,"l":1.24,"c":1.27,"t":"B","v":60000},
{"i":344,"o":1.27,"h":1.30,"l":1.25,"c":1.28,"t":"B","v":14000},
{"i":345,"o":1.30,"h":1.31,"l":1.28,"c":1.29,"t":"G","v":12000},
{"i":346,"o":1.30,"h":1.31,"l":1.27,"c":1.27,"t":"G","v":10000},
{"i":347,"o":1.29,"h":1.30,"l":1.24,"c":1.26,"t":"G","v":11000},
{"i":348,"o":1.27,"h":1.28,"l":1.24,"c":1.25,"t":"G","v":9000},
{"i":349,"o":1.27,"h":1.28,"l":1.23,"c":1.24,"t":"G","v":12000},
{"i":350,"o":1.255,"h":1.27,"l":1.25,"c":1.26,"t":"G","v":8000},
{"i":351,"o":1.27,"h":1.28,"l":1.25,"c":1.26,"t":"G","v":10000},
{"i":352,"o":1.28,"h":1.29,"l":1.26,"c":1.27,"t":"G","v":9000},
{"i":353,"o":1.27,"h":1.28,"l":1.26,"c":1.27,"t":"G","v":11000},
{"i":354,"o":1.28,"h":1.29,"l":1.26,"c":1.26,"t":"G","v":10000},
{"i":355,"o":1.28,"h":1.29,"l":1.25,"c":1.26,"t":"G","v":9000},
{"i":356,"o":1.27,"h":1.28,"l":1.26,"c":1.26,"t":"G","v":8000},
{"i":357,"o":1.27,"h":1.28,"l":1.25,"c":1.25,"t":"G","v":10000},
{"i":358,"o":1.245,"h":1.25,"l":1.24,"c":1.245,"t":"G","v":9000},
{"i":359,"o":1.245,"h":1.25,"l":1.24,"c":1.245,"t":"G","v":8000},
{"i":360,"o":1.245,"h":1.26,"l":1.24,"c":1.25,"t":"G","v":12000},
{"i":361,"o":1.24,"h":1.28,"l":1.24,"c":1.25,"t":"G","v":15000},
{"i":362,"o":1.28,"h":1.29,"l":1.25,"c":1.25,"t":"G","v":18000},
{"i":363,"o":1.26,"h":1.28,"l":1.25,"c":1.28,"t":"G","v":40000},
{"i":364,"o":1.28,"h":1.29,"l":1.27,"c":1.28,"t":"G","v":16000},
{"i":365,"o":1.26,"h":1.29,"l":1.25,"c":1.28,"t":"G","v":22000},
{"i":366,"o":1.27,"h":1.28,"l":1.25,"c":1.26,"t":"G","v":30000},
{"i":367,"o":1.27,"h":1.28,"l":1.25,"c":1.26,"t":"G","v":14000},
{"i":368,"o":1.27,"h":1.28,"l":1.26,"c":1.265,"t":"G","v":20000},
{"i":369,"o":1.26,"h":1.28,"l":1.26,"c":1.27,"t":"G","v":45000},
{"i":370,"o":1.29,"h":1.30,"l":1.27,"c":1.28,"t":"G","v":85000},
{"i":371,"o":1.28,"h":1.29,"l":1.25,"c":1.26,"t":"G","v":30000},
{"i":372,"o":1.27,"h":1.28,"l":1.25,"c":1.26,"t":"G","v":50000},
{"i":373,"o":1.28,"h":1.29,"l":1.24,"c":1.25,"t":"G","v":18000},
{"i":374,"o":1.27,"h":1.28,"l":1.26,"c":1.27,"t":"G","v":14000},
{"i":375,"o":1.26,"h":1.27,"l":1.24,"c":1.25,"t":"G","v":10000},
{"i":376,"o":1.25,"h":1.26,"l":1.23,"c":1.24,"t":"G","v":9000},
{"i":377,"o":1.26,"h":1.27,"l":1.24,"c":1.25,"t":"G","v":11000},
{"i":378,"o":1.255,"h":1.26,"l":1.24,"c":1.245,"t":"G","v":12000},
{"i":379,"o":1.255,"h":1.26,"l":1.24,"c":1.25,"t":"G","v":9000},
{"i":380,"o":1.26,"h":1.26,"l":1.24,"c":1.245,"t":"G","v":8000},
{"i":381,"o":1.255,"h":1.26,"l":1.22,"c":1.22,"t":"R","v":14000},
{"i":382,"o":1.24,"h":1.25,"l":1.19,"c":1.21,"t":"R","v":12000},
{"i":383,"o":1.23,"h":1.24,"l":1.21,"c":1.23,"t":"R","v":10000},
{"i":384,"o":1.25,"h":1.26,"l":1.20,"c":1.23,"t":"R","v":9000},
{"i":385,"o":1.24,"h":1.26,"l":1.22,"c":1.23,"t":"R","v":11000},
{"i":386,"o":1.25,"h":1.25,"l":1.22,"c":1.25,"t":"R","v":10000},
{"i":387,"o":1.25,"h":1.26,"l":1.24,"c":1.25,"t":"B","v":6000},
{"i":388,"o":1.22,"h":1.24,"l":1.20,"c":1.23,"t":"R","v":8000},
{"i":389,"o":1.255,"h":1.27,"l":1.22,"c":1.26,"t":"G","v":12000},
{"i":390,"o":1.255,"h":1.27,"l":1.24,"c":1.27,"t":"G","v":14000},
{"i":391,"o":1.26,"h":1.27,"l":1.23,"c":1.25,"t":"G","v":10000},
{"i":392,"o":1.26,"h":1.27,"l":1.25,"c":1.26,"t":"G","v":11000},
{"i":393,"o":1.26,"h":1.27,"l":1.25,"c":1.26,"t":"G","v":12000},
{"i":394,"o":1.24,"h":1.32,"l":1.23,"c":1.31,"t":"G","v":18000},
{"i":395,"o":1.345,"h":1.35,"l":1.29,"c":1.32,"t":"G","v":16000},
{"i":396,"o":1.35,"h":1.36,"l":1.33,"c":1.34,"t":"G","v":20000},
{"i":397,"o":1.345,"h":1.36,"l":1.32,"c":1.34,"t":"G","v":15000},
{"i":398,"o":1.355,"h":1.36,"l":1.33,"c":1.34,"t":"G","v":18000},
{"i":399,"o":1.34,"h":1.35,"l":1.31,"c":1.33,"t":"G","v":12000},
{"i":400,"o":1.33,"h":1.34,"l":1.31,"c":1.33,"t":"G","v":14000},
{"i":401,"o":1.34,"h":1.35,"l":1.32,"c":1.33,"t":"G","v":11000},
{"i":402,"o":1.36,"h":1.37,"l":1.30,"c":1.32,"t":"G","v":16000},
{"i":403,"o":1.33,"h":1.34,"l":1.32,"c":1.33,"t":"G","v":13000},
{"i":404,"o":1.33,"h":1.34,"l":1.31,"c":1.32,"t":"G","v":10000},
{"i":405,"o":1.32,"h":1.33,"l":1.30,"c":1.31,"t":"G","v":12000},
{"i":406,"o":1.32,"h":1.33,"l":1.29,"c":1.31,"t":"G","v":14000},
{"i":407,"o":1.32,"h":1.33,"l":1.30,"c":1.31,"t":"G","v":9000},
{"i":408,"o":1.31,"h":1.32,"l":1.29,"c":1.30,"t":"G","v":11000},
{"i":409,"o":1.31,"h":1.32,"l":1.29,"c":1.31,"t":"G","v":10000},
{"i":410,"o":1.31,"h":1.33,"l":1.29,"c":1.32,"t":"G","v":12000},
{"i":411,"o":1.32,"h":1.34,"l":1.31,"c":1.33,"t":"G","v":14000},
{"i":412,"o":1.32,"h":1.40,"l":1.31,"c":1.39,"t":"G","v":20000},
{"i":413,"o":1.40,"h":1.47,"l":1.39,"c":1.46,"t":"G","v":45000},
{"i":414,"o":1.42,"h":1.43,"l":1.40,"c":1.41,"t":"G","v":30000},
{"i":415,"o":1.40,"h":1.42,"l":1.36,"c":1.39,"t":"G","v":20000},
{"i":416,"o":1.38,"h":1.41,"l":1.35,"c":1.40,"t":"G","v":16000},
{"i":417,"o":1.41,"h":1.42,"l":1.36,"c":1.38,"t":"G","v":14000},
{"i":418,"o":1.39,"h":1.40,"l":1.37,"c":1.385,"t":"G","v":12000},
{"i":419,"o":1.405,"h":1.42,"l":1.36,"c":1.38,"t":"G","v":11000},
{"i":420,"o":1.40,"h":1.41,"l":1.36,"c":1.37,"t":"G","v":9000},
{"i":421,"o":1.385,"h":1.39,"l":1.34,"c":1.37,"t":"G","v":10000},
{"i":422,"o":1.36,"h":1.37,"l":1.30,"c":1.34,"t":"R","v":12000},
{"i":423,"o":1.36,"h":1.37,"l":1.33,"c":1.35,"t":"R","v":9000},
{"i":424,"o":1.35,"h":1.38,"l":1.34,"c":1.37,"t":"R","v":11000},
{"i":425,"o":1.39,"h":1.41,"l":1.37,"c":1.40,"t":"R","v":13000},
{"i":426,"o":1.385,"h":1.41,"l":1.37,"c":1.40,"t":"R","v":10000},
{"i":427,"o":1.41,"h":1.42,"l":1.38,"c":1.40,"t":"R","v":12000},
{"i":428,"o":1.405,"h":1.41,"l":1.38,"c":1.39,"t":"R","v":9000},
{"i":429,"o":1.40,"h":1.41,"l":1.37,"c":1.39,"t":"R","v":14000},
{"i":430,"o":1.405,"h":1.41,"l":1.39,"c":1.40,"t":"R","v":35000},
{"i":431,"o":1.40,"h":1.41,"l":1.38,"c":1.40,"t":"R","v":16000},
{"i":432,"o":1.395,"h":1.41,"l":1.39,"c":1.40,"t":"R","v":12000},
{"i":433,"o":1.41,"h":1.42,"l":1.39,"c":1.40,"t":"R","v":10000},
{"i":434,"o":1.405,"h":1.41,"l":1.38,"c":1.40,"t":"R","v":13000},
{"i":435,"o":1.40,"h":1.41,"l":1.37,"c":1.39,"t":"R","v":9000},
{"i":436,"o":1.39,"h":1.40,"l":1.38,"c":1.40,"t":"R","v":11000},
{"i":437,"o":1.395,"h":1.40,"l":1.38,"c":1.39,"t":"R","v":12000},
{"i":438,"o":1.38,"h":1.39,"l":1.36,"c":1.385,"t":"R","v":14000},
{"i":439,"o":1.38,"h":1.39,"l":1.35,"c":1.385,"t":"R","v":10000},
{"i":440,"o":1.40,"h":1.41,"l":1.38,"c":1.39,"t":"R","v":9000},
{"i":441,"o":1.40,"h":1.41,"l":1.38,"c":1.39,"t":"R","v":11000},
{"i":442,"o":1.40,"h":1.41,"l":1.38,"c":1.39,"t":"R","v":13000},
{"i":443,"o":1.36,"h":1.37,"l":1.31,"c":1.32,"t":"R","v":18000},
{"i":444,"o":1.36,"h":1.37,"l":1.30,"c":1.31,"t":"R","v":35000},
{"i":445,"o":1.31,"h":1.32,"l":1.28,"c":1.29,"t":"R","v":20000},
{"i":446,"o":1.29,"h":1.30,"l":1.25,"c":1.27,"t":"R","v":15000},
{"i":447,"o":1.26,"h":1.28,"l":1.24,"c":1.27,"t":"R","v":12000},
{"i":448,"o":1.255,"h":1.27,"l":1.23,"c":1.265,"t":"R","v":14000},
{"i":449,"o":1.28,"h":1.29,"l":1.25,"c":1.27,"t":"R","v":11000},
{"i":450,"o":1.285,"h":1.29,"l":1.26,"c":1.28,"t":"R","v":16000},
{"i":451,"o":1.29,"h":1.30,"l":1.25,"c":1.27,"t":"R","v":12000},
{"i":452,"o":1.34,"h":1.36,"l":1.29,"c":1.30,"t":"R","v":18000},
{"i":453,"o":1.30,"h":1.32,"l":1.28,"c":1.31,"t":"R","v":13000},
{"i":454,"o":1.33,"h":1.34,"l":1.28,"c":1.30,"t":"R","v":12000},
{"i":455,"o":1.33,"h":1.34,"l":1.31,"c":1.32,"t":"R","v":10000},
{"i":456,"o":1.32,"h":1.34,"l":1.30,"c":1.33,"t":"R","v":11000},
{"i":457,"o":1.33,"h":1.34,"l":1.31,"c":1.32,"t":"R","v":9000},
{"i":458,"o":1.34,"h":1.35,"l":1.30,"c":1.33,"t":"R","v":12000},
{"i":459,"o":1.34,"h":1.35,"l":1.31,"c":1.33,"t":"R","v":10000},
{"i":460,"o":1.34,"h":1.35,"l":1.31,"c":1.33,"t":"R","v":8000},
{"i":461,"o":1.34,"h":1.35,"l":1.30,"c":1.32,"t":"R","v":11000},
{"i":462,"o":1.33,"h":1.34,"l":1.31,"c":1.33,"t":"R","v":9000},
{"i":463,"o":1.335,"h":1.35,"l":1.31,"c":1.33,"t":"R","v":10000},
{"i":464,"o":1.335,"h":1.34,"l":1.31,"c":1.33,"t":"R","v":8000},
{"i":465,"o":1.34,"h":1.35,"l":1.31,"c":1.33,"t":"R","v":12000},
{"i":466,"o":1.33,"h":1.34,"l":1.32,"c":1.335,"t":"R","v":9000},
{"i":467,"o":1.32,"h":1.33,"l":1.30,"c":1.31,"t":"R","v":10000},
{"i":468,"o":1.33,"h":1.34,"l":1.31,"c":1.335,"t":"R","v":11000},
{"i":469,"o":1.33,"h":1.35,"l":1.32,"c":1.34,"t":"R","v":13000},
{"i":470,"o":1.34,"h":1.38,"l":1.33,"c":1.37,"t":"G","v":18000},
{"i":471,"o":1.37,"h":1.41,"l":1.36,"c":1.40,"t":"G","v":22000},
{"i":472,"o":1.41,"h":1.42,"l":1.38,"c":1.41,"t":"G","v":15000},
{"i":473,"o":1.415,"h":1.43,"l":1.38,"c":1.41,"t":"G","v":12000},
{"i":474,"o":1.41,"h":1.42,"l":1.39,"c":1.41,"t":"G","v":14000},
{"i":475,"o":1.40,"h":1.44,"l":1.39,"c":1.43,"t":"G","v":30000},
{"i":476,"o":1.44,"h":1.45,"l":1.40,"c":1.41,"t":"G","v":16000},
{"i":477,"o":1.43,"h":1.44,"l":1.40,"c":1.41,"t":"G","v":12000},
{"i":478,"o":1.425,"h":1.43,"l":1.40,"c":1.41,"t":"G","v":14000},
{"i":479,"o":1.42,"h":1.47,"l":1.41,"c":1.45,"t":"G","v":20000},
{"i":480,"o":1.45,"h":1.46,"l":1.41,"c":1.42,"t":"G","v":28000},
{"i":481,"o":1.42,"h":1.44,"l":1.41,"c":1.43,"t":"G","v":13000},
{"i":482,"o":1.425,"h":1.43,"l":1.40,"c":1.42,"t":"G","v":11000},
{"i":483,"o":1.42,"h":1.43,"l":1.39,"c":1.40,"t":"G","v":15000},
{"i":484,"o":1.42,"h":1.43,"l":1.38,"c":1.40,"t":"G","v":12000},
{"i":485,"o":1.41,"h":1.42,"l":1.39,"c":1.40,"t":"G","v":18000},
{"i":486,"o":1.42,"h":1.43,"l":1.37,"c":1.40,"t":"G","v":40000},
{"i":487,"o":1.43,"h":1.44,"l":1.40,"c":1.41,"t":"G","v":16000},
{"i":488,"o":1.41,"h":1.47,"l":1.40,"c":1.46,"t":"G","v":26000},
{"i":489,"o":1.47,"h":1.48,"l":1.43,"c":1.44,"t":"G","v":14000},
{"i":490,"o":1.44,"h":1.48,"l":1.42,"c":1.47,"t":"G","v":20000},
{"i":491,"o":1.50,"h":1.51,"l":1.46,"c":1.47,"t":"G","v":15000},
{"i":492,"o":1.47,"h":1.51,"l":1.46,"c":1.50,"t":"G","v":12000},
{"i":493,"o":1.52,"h":1.53,"l":1.49,"c":1.50,"t":"G","v":10000},
{"i":494,"o":1.51,"h":1.55,"l":1.50,"c":1.54,"t":"G","v":14000},
{"i":495,"o":1.55,"h":1.56,"l":1.50,"c":1.52,"t":"G","v":12000},
{"i":496,"o":1.53,"h":1.54,"l":1.50,"c":1.51,"t":"G","v":9000},
{"i":497,"o":1.545,"h":1.55,"l":1.51,"c":1.52,"t":"G","v":11000},
{"i":498,"o":1.54,"h":1.55,"l":1.50,"c":1.52,"t":"G","v":10000},
{"i":499,"o":1.53,"h":1.54,"l":1.46,"c":1.47,"t":"G","v":16000},
{"i":500,"o":1.49,"h":1.50,"l":1.47,"c":1.48,"t":"G","v":12000},
{"i":501,"o":1.48,"h":1.54,"l":1.47,"c":1.53,"t":"G","v":14000},
{"i":502,"o":1.54,"h":1.55,"l":1.50,"c":1.52,"t":"G","v":11000},
{"i":503,"o":1.55,"h":1.56,"l":1.50,"c":1.51,"t":"G","v":13000},
{"i":504,"o":1.55,"h":1.56,"l":1.52,"c":1.53,"t":"G","v":20000},
{"i":505,"o":1.53,"h":1.60,"l":1.495,"c":1.585,"t":"G","v":45000}
],
"oscz": [
{"i":39.3,"z":98},{"i":46,"z":98},{"i":50,"z":84},{"i":52.6,"z":82},{"i":56.6,"z":86},{"i":58.6,"z":81},{"i":61.9,"z":74},{"i":63.1,"z":74},{"i":68.5,"z":84},{"i":73.1,"z":89},{"i":75.1,"z":89},{"i":77.8,"z":79},{"i":80.3,"z":55},{"i":84.3,"z":36},{"i":88.3,"z":23},{"i":89.7,"z":23},{"i":92.3,"z":48},{"i":96.2,"z":60},{"i":100.2,"z":59},{"i":105.4,"z":46},{"i":113.4,"z":31},{"i":118.6,"z":20},{"i":122.6,"z":15},{"i":124,"z":18},{"i":127.9,"z":36},{"i":131.9,"z":35},{"i":138.6,"z":34},{"i":145.2,"z":55},{"i":151.7,"z":72},{"i":158.3,"z":81},{"i":162.4,"z":86},{"i":166.2,"z":74},{"i":170.3,"z":55},{"i":174.1,"z":57},{"i":179.5,"z":72},{"i":184.8,"z":83},{"i":187.4,"z":88},{"i":191.4,"z":83},{"i":195.4,"z":76},{"i":199.3,"z":60},{"i":203.3,"z":41},{"i":206.9,"z":34},{"i":213.4,"z":27},{"i":217.9,"z":10},{"i":224.5,"z":5},{"i":232.1,"z":5},{"i":237.6,"z":36},{"i":244.1,"z":62},{"i":250.9,"z":72},{"i":259.7,"z":80},{"i":268.5,"z":74},{"i":275.1,"z":64},{"i":279.5,"z":72},{"i":283.8,"z":67},{"i":290.3,"z":79},{"i":294.8,"z":86},{"i":299.3,"z":72},{"i":303.7,"z":41},{"i":310.2,"z":20},{"i":316.9,"z":17},{"i":325.5,"z":17},{"i":329,"z":48},{"i":336.6,"z":53},{"i":342.1,"z":43},{"i":347.6,"z":80},{"i":352.1,"z":72},{"i":358.6,"z":72},{"i":363.1,"z":57},{"i":374,"z":72},{"i":380.6,"z":46},{"i":387.2,"z":34},{"i":393.8,"z":60},{"i":400.3,"z":79},{"i":405.9,"z":86},{"i":412.4,"z":62},{"i":416.9,"z":79},{"i":424.5,"z":50},{"i":433.4,"z":50},{"i":442.1,"z":29},{"i":451,"z":8},{"i":457.6,"z":12},{"i":464.1,"z":50},{"i":470.7,"z":62},{"i":475.2,"z":72},{"i":479.7,"z":84},{"i":486.2,"z":81},{"i":490.7,"z":62},{"i":492.8,"z":64},{"i":499.3,"z":81},{"i":503.8,"z":64},{"i":505.9,"z":69}
],
"oscm": [
{"i":39.3,"m":98},{"i":47,"m":98},{"i":51.5,"m":86},{"i":54,"m":83},{"i":58,"m":84},{"i":60.5,"m":80},{"i":64,"m":74},{"i":70,"m":82},{"i":74.5,"m":88},{"i":77,"m":88},{"i":80,"m":80},{"i":83,"m":60},{"i":87,"m":40},{"i":91,"m":25},{"i":93,"m":26},{"i":96,"m":44},{"i":99,"m":56},{"i":102,"m":58},{"i":107,"m":47},{"i":115,"m":33},{"i":121,"m":21},{"i":125,"m":16},{"i":128,"m":25},{"i":131,"m":34},{"i":139,"m":34},{"i":146,"m":50},{"i":153,"m":68},{"i":160,"m":79},{"i":164,"m":84},{"i":168,"m":76},{"i":172,"m":60},{"i":176,"m":58},{"i":181,"m":69},{"i":186,"m":80},{"i":189,"m":85},{"i":193,"m":82},{"i":197,"m":75},{"i":201,"m":61},{"i":205,"m":44},{"i":209,"m":35},{"i":215,"m":27},{"i":220,"m":12},{"i":226,"m":7},{"i":234,"m":6},{"i":240,"m":30},{"i":246,"m":56},{"i":253,"m":69},{"i":261,"m":78},{"i":270,"m":73},{"i":277,"m":66},{"i":281,"m":70},{"i":285,"m":67},{"i":292,"m":76},{"i":296,"m":83},{"i":301,"m":73},{"i":306,"m":45},{"i":312,"m":24},{"i":319,"m":18},{"i":327,"m":18},{"i":331,"m":42},{"i":338,"m":51},{"i":344,"m":45},{"i":349,"m":72},{"i":354,"m":71},{"i":360,"m":70},{"i":365,"m":60},{"i":376,"m":69},{"i":382,"m":50},{"i":389,"m":37},{"i":396,"m":55},{"i":402,"m":75},{"i":408,"m":83},{"i":414,"m":67},{"i":419,"m":74},{"i":426,"m":53},{"i":435,"m":50},{"i":444,"m":32},{"i":453,"m":11},{"i":459,"m":14},{"i":466,"m":44},{"i":472,"m":58},{"i":477,"m":68},{"i":482,"m":80},{"i":488,"m":81},{"i":492,"m":66},{"i":495,"m":64},{"i":501,"m":77},{"i":505.9,"m":67}
],
"trend": [
{"g":"a","i":92.4,"p":1.938},{"g":"a","i":532,"p":1.597},
{"g":"b","i":413.1,"p":1.467},{"g":"b","i":473,"p":1.347},
{"g":"c","i":471,"p":1.297},{"g":"c","i":533,"p":1.525}
]
},
"vconcat": [
{
"width": 1557, "height": 78,
"layer": [
{"data": {"name": "oscm"}, "mark": {"type": "line", "color": "#ff7a7a", "strokeWidth": 1, "clip": true},
 "encoding": {
  "x": {"field": "i", "type": "quantitative", "scale": {"domain": [-0.4, 536.5], "nice": false, "zero": false},
        "axis": {"title": null, "grid": true, "gridDash": [3, 3], "gridColor": "#c4c4c4", "labels": false, "ticks": false, "domain": true, "domainColor": "#7a7a7a", "domainWidth": 2,
                 "values": [0.5, 9.9, 32, 51.7, 74.8, 95.8, 117.2, 139.6, 161, 180.3, 201, 221.7, 241.7, 261, 281.7, 301.7, 325.1, 346, 367.5, 387.5, 409.3, 430.3, 449.3, 469.6, 491, 508.9, 530.3]}},
  "y": {"field": "m", "type": "quantitative", "scale": {"domain": [-3.7, 106.9], "nice": false, "zero": false},
        "axis": {"title": null, "orient": "right", "values": [50], "tickSize": 5, "labelPadding": 9, "labelFontSize": 11.5, "grid": false, "domain": true}}
 }},
{"data": {"name": "oscz"}, "mark": {"type": "line", "color": "#ff1010", "strokeWidth": 1, "clip": true},
 "encoding": {"x": {"field": "i", "type": "quantitative"}, "y": {"field": "z", "type": "quantitative"}}},
{"data": {"values": [{}]}, "mark": {"type": "rule", "color": "#ff8c8c", "strokeWidth": 2}, "encoding": {"y": {"datum": 80}}},
{"data": {"values": [{}]}, "mark": {"type": "rule", "color": "#ff2a2a", "strokeWidth": 1.3}, "encoding": {"y": {"datum": 20}}},
{"data": {"values": [{}]}, "mark": {"type": "text", "fontSize": 10, "font": "Liberation Sans", "color": "#202020", "align": "center", "baseline": "middle"},
 "encoding": {"x": {"datum": 266}, "y": {"datum": 94.5}, "text": {"value": "Z_Pele w mov (67.8247, 70.0601, 80.0000, 20.0000)"}}}
]
},
{
"width": 1557, "height": 652,
"resolve": {"axis": {"y": "independent"}},
"layer": [
{"data": {"name": "candles"}, "mark": {"type": "rule", "strokeWidth": 1, "clip": true},
 "encoding": {
  "x": {"field": "i", "type": "quantitative", "scale": {"domain": [-0.4, 536.5], "nice": false, "zero": false},
        "axis": {"title": null, "grid": true, "gridDash": [3, 3], "gridColor": "#c4c4c4", "labels": false, "ticks": false, "domain": true, "domainColor": "#303030", "domainWidth": 1.5,
                 "values": [0.5, 9.9, 32, 51.7, 74.8, 95.8, 117.2, 139.6, 161, 180.3, 201, 221.7, 241.7, 261, 281.7, 301.7, 325.1, 346, 367.5, 387.5, 409.3, 430.3, 449.3, 469.6, 491, 508.9, 530.3]}},
  "y": {"field": "l", "type": "quantitative", "scale": {"domain": [0.9305, 2.0245], "nice": false, "zero": false},
        "axis": {"title": null, "orient": "right", "values": [0.95, 1, 1.05, 1.1, 1.15, 1.2, 1.25, 1.3, 1.35, 1.4, 1.45, 1.5, 1.55, 1.6, 1.65, 1.7, 1.75, 1.8, 1.85, 1.9, 1.95], "format": ".2f", "tickSize": 6, "labelPadding": 9, "labelFontSize": 11.5, "grid": false, "domain": true, "labelOverlap": false}},
  "y2": {"field": "h"},
  "color": {"field": "t", "type": "nominal", "scale": {"domain": ["G", "R", "B"], "range": ["#009a00", "#ff0000", "#0000ff"]}, "legend": null}
 }},
{"data": {"name": "candles"}, "mark": {"type": "bar", "size": 2.2, "strokeWidth": 0.8, "clip": true, "orient": "vertical"},
 "encoding": {
  "x": {"field": "i", "type": "quantitative"},
  "y": {"field": "o", "type": "quantitative", "axis": null},
  "y2": {"field": "c"},
  "stroke": {"field": "t", "type": "nominal", "scale": {"domain": ["G", "R", "B"], "range": ["#009a00", "#ff0000", "#0000ff"]}, "legend": null},
  "fill": {"condition": {"test": "datum.c > datum.o", "value": "#ffffff"}, "field": "t", "type": "nominal", "scale": {"domain": ["G", "R", "B"], "range": ["#009a00", "#ff0000", "#0000ff"]}, "legend": null}
 }},
{"data": {"name": "trend"}, "mark": {"type": "line", "color": "#3a3aff", "strokeWidth": 1.2, "clip": true},
 "encoding": {
  "x": {"field": "i", "type": "quantitative"},
  "y": {"field": "p", "type": "quantitative",
        "axis": {"title": null, "orient": "right", "labels": false, "tickSize": 3, "domain": false, "grid": false,
                 "values": [0.94,0.95,0.96,0.97,0.98,0.99,1,1.01,1.02,1.03,1.04,1.05,1.06,1.07,1.08,1.09,1.1,1.11,1.12,1.13,1.14,1.15,1.16,1.17,1.18,1.19,1.2,1.21,1.22,1.23,1.24,1.25,1.26,1.27,1.28,1.29,1.3,1.31,1.32,1.33,1.34,1.35,1.36,1.37,1.38,1.39,1.4,1.41,1.42,1.43,1.44,1.45,1.46,1.47,1.48,1.49,1.5,1.51,1.52,1.53,1.54,1.55,1.56,1.57,1.58,1.59,1.6,1.61,1.62,1.63,1.64,1.65,1.66,1.67,1.68,1.69,1.7,1.71,1.72,1.73,1.74,1.75,1.76,1.77,1.78,1.79,1.8,1.81,1.82,1.83,1.84,1.85,1.86,1.87,1.88,1.89,1.9,1.91,1.92,1.93,1.94,1.95,1.96,1.97,1.98,1.99,2,2.01,2.02]}},
  "detail": {"field": "g", "type": "nominal"}
 }},
{"data": {"values": [{"i": 268.2, "p": 2.006, "s": "ELTON (1.53000, 1.60000, 1.49500, 1.58500, +0.06000), Zaelias_Bands"}]},
 "mark": {"type": "text", "fontSize": 10, "font": "Liberation Sans", "color": "#202020", "align": "center", "baseline": "middle"},
 "encoding": {"x": {"field": "i", "type": "quantitative"}, "y": {"field": "p", "type": "quantitative", "axis": null}, "text": {"field": "s"}}},
{"data": {"values": [{"i": 336.5, "p": 1.899, "s": "ELTON DAILY"}, {"i": 336.5, "p": 1.831, "s": "LONG STOP 14550"}]},
 "mark": {"type": "text", "fontSize": 31, "font": "DejaVu Sans", "fontStyle": "italic", "fontWeight": 200, "color": "#1a1aff", "align": "left", "baseline": "middle"},
 "encoding": {"x": {"field": "i", "type": "quantitative"}, "y": {"field": "p", "type": "quantitative", "axis": null}, "text": {"field": "s"}}},
{"data": {"values": [{"i": 499.3, "p": 1.897, "s": "186"}, {"i": 491.7, "p": 1.678, "s": "160"}]},
 "mark": {"type": "text", "fontSize": 24, "font": "DejaVu Sans", "fontStyle": "italic", "fontWeight": 200, "color": "#1a1aff", "align": "left", "baseline": "middle"},
 "encoding": {"x": {"field": "i", "type": "quantitative"}, "y": {"field": "p", "type": "quantitative", "axis": null}, "text": {"field": "s"}}},
{"data": {"values": [{"i": 310.6, "p": 1.118, "s": "www.fastfinance.gr"}]},
 "mark": {"type": "text", "fontSize": 22, "font": "DejaVu Sans", "fontStyle": "italic", "fontWeight": 200, "color": "#1a1aff", "align": "left", "baseline": "middle"},
 "encoding": {"x": {"field": "i", "type": "quantitative"}, "y": {"field": "p", "type": "quantitative", "axis": null}, "text": {"field": "s"}}}
]
},
{
"width": 1557, "height": 21,
"data": {"name": "candles"},
"resolve": {"axis": {"x": "independent"}},
"layer": [
{"mark": {"type": "bar", "size": 1, "color": "#2b2bff", "clip": true, "orient": "vertical"},
 "encoding": {
  "x": {"field": "i", "type": "quantitative", "scale": {"domain": [-0.4, 536.5], "nice": false, "zero": false},
        "axis": {"title": null, "orient": "bottom", "grid": true, "gridDash": [3, 3], "gridColor": "#c4c4c4", "domain": true, "domainColor": "#000000", "tickSize": 10, "labelPadding": -9, "labelBaseline": "top", "labelAlign": "left", "labelOffset": 2, "labelFontSize": 11, "labelOverlap": false, "labelFlush": false,
                 "values": [0.5, 9.9, 32, 51.7, 74.8, 95.8, 117.2, 139.6, 161, 180.3, 201, 221.7, 241.7, 261, 281.7, 301.7, 325.1, 346, 367.5, 387.5, 409.3, 430.3, 449.3, 469.6, 491, 508.9, 530.3],
                 "labelExpr": "['2019','','June','July','August','September','October','November','December','2020','February','March','April','May','June','July','August','September','October','November','December','2021','February','March','April','May','Jun'][indexof([0.5, 9.9, 32, 51.7, 74.8, 95.8, 117.2, 139.6, 161, 180.3, 201, 221.7, 241.7, 261, 281.7, 301.7, 325.1, 346, 367.5, 387.5, 409.3, 430.3, 449.3, 469.6, 491, 508.9, 530.3], datum.value)]"}},
  "y": {"field": "v", "type": "quantitative", "scale": {"domain": [0, 87500], "nice": false, "zero": true},
        "axis": {"title": null, "orient": "right", "values": [50000], "format": "d", "tickSize": 3, "labelPadding": 1, "labelFontSize": 11, "grid": false, "domain": true, "labelOverlap": false, "labelBound": false, "labelFlush": false, "labelBaseline": "middle"}}
 }},
{"mark": {"type": "rule", "opacity": 0},
 "encoding": {
  "x": {"field": "i", "type": "quantitative",
        "axis": {"title": null, "orient": "bottom", "grid": false, "labels": false, "domain": false, "tickSize": 4,
                 "values": [3,8,13,18,23,28,33,38,43,48,53,58,63,68,73,78,83,88,93,98,103,108,113,118,123,128,133,138,143,148,153,158,163,168,173,178,183,188,193,198,203,208,213,218,223,228,233,238,243,248,253,258,263,268,273,278,283,288,293,298,303,308,313,318,323,328,333,338,343,348,353,358,363,368,373,378,383,388,393,398,403,408,413,418,423,428,433,438,443,448,453,458,463,468,473,478,483,488,493,498,503,508,513,518,523,528,533]}}
 }}
]
}
]
}
